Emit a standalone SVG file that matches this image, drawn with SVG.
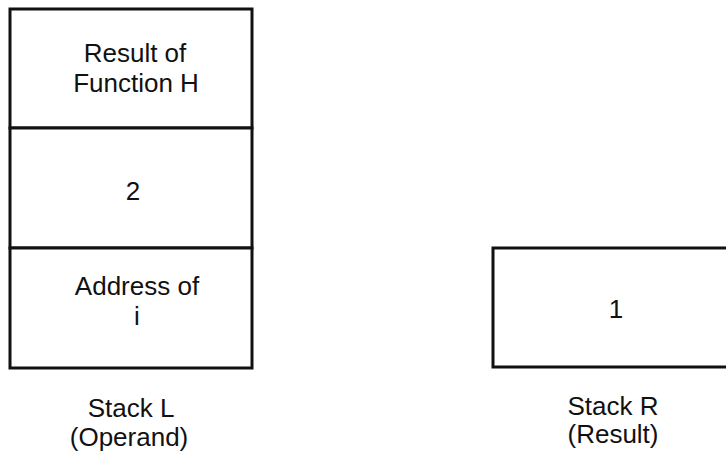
<svg xmlns="http://www.w3.org/2000/svg" width="726" height="456" viewBox="0 0 726 456">
<style>
.box{fill:#fff;stroke:#111;stroke-width:3}
.t{font-family:"Liberation Sans",Arial,sans-serif;font-size:26px;fill:#111;text-anchor:middle}
</style>
<rect width="726" height="456" fill="#fff"/>
<g id="stackL">
<g id="cellH">
<rect class="box" x="10" y="9" width="242" height="119"/>
<text class="t" x="135" y="62">Result of</text>
<text class="t" x="136" y="92">Function H</text>
</g>
<g id="cell2">
<rect class="box" x="10" y="128" width="242" height="120"/>
<text class="t" x="133" y="200">2</text>
</g>
<g id="cellAddr">
<rect class="box" x="10" y="248" width="242" height="120"/>
<text class="t" x="137" y="295">Address of</text>
<text class="t" x="137" y="325">i</text>
</g>
<text class="t" x="131" y="417">Stack L</text>
<text class="t" x="129" y="446">(Operand)</text>
</g>
<g id="stackR">
<g id="cell1">
<rect class="box" x="493" y="248" width="240" height="119"/>
<text class="t" x="616" y="318">1</text>
</g>
<text class="t" x="613" y="415">Stack R</text>
<text class="t" x="613" y="443">(Result)</text>
</g>
<g id="connectors"/>
</svg>
